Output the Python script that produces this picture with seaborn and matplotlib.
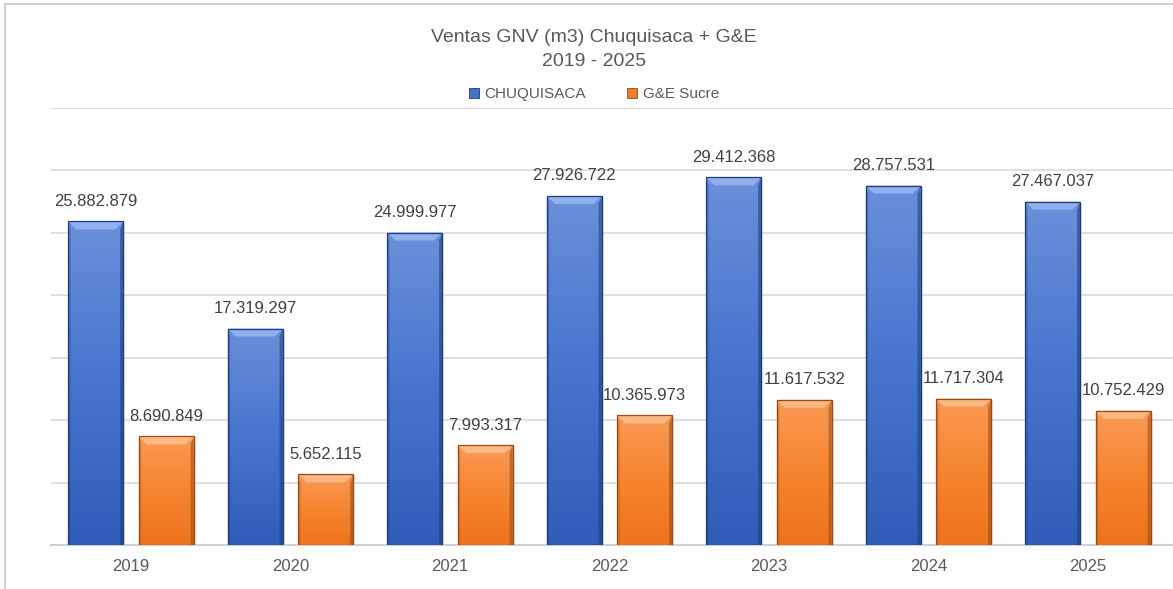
import numpy as np
import pandas as pd
import matplotlib.pyplot as plt
import seaborn as sns
from matplotlib.colors import LinearSegmentedColormap
from matplotlib.patches import Polygon, Rectangle, Patch
from matplotlib.lines import Line2D

# data
years = ['2019', '2020', '2021', '2022', '2023', '2024', '2025']
series = ['CHUQUISACA', 'G&E Sucre']
chuquisaca = [25882879, 17319297, 24999977, 27926722, 29412368, 28757531, 27467037]
ge_sucre = [8690849, 5652115, 7993317, 10365973, 11617532, 11717304, 10752429]

df = pd.DataFrame({
    'Año': years * 2,
    'Serie': [series[0]] * len(years) + [series[1]] * len(years),
    'Ventas': chuquisaca + ge_sucre,
})

sns.set_theme(style='white')
plt.rcParams['font.family'] = ['Liberation Sans', 'DejaVu Sans']

W, H = 1173, 589
fig = plt.figure(figsize=(W / 100, H / 100), dpi=100)
left, right, top, bottom = 51.25, 1173, 107.5, 545
ax = fig.add_axes([left / W, 1 - bottom / H, (right - left) / W, (bottom - top) / H])

base = ['#4472C4', '#ED7D31']
sns.barplot(data=df, x='Año', y='Ventas', hue='Serie', hue_order=series,
            palette=base, width=0.884, gap=0.22, ax=ax, legend=False, zorder=3)

cat_px = 159.5
ax.set_yticks(np.arange(5e6, 35e6 + 1, 5e6))
ax.set_yticklabels([])
ax.tick_params(axis='y', length=0)
ax.tick_params(axis='x', length=0, pad=10, labelsize=12, labelcolor='#595959')
ax.grid(axis='y', color='#D9D9D9', lw=1.2, zorder=0)
ax.set_xlabel('')
ax.set_ylabel('')
for s in ['left', 'right', 'top']:
    ax.spines[s].set_visible(False)
ax.spines['bottom'].set_color('#D0D0D0')
ax.spines['bottom'].set_linewidth(1.5)

# bevel / gradient styling
cmaps = [LinearSegmentedColormap.from_list('b', ['#6A90DA', '#4674CF', '#2F5DB9']),
         LinearSegmentedColormap.from_list('o', ['#FA9A56', '#F6842F', '#EE731E'])]
caps = ['#8FB0EC', '#FDB985']
edges = ['#1E3C78', '#9A4A12']
grad = np.linspace(0, 1, 256).reshape(-1, 1)
px_x = 1 / cat_px
px_y = 35e6 / (bottom - top)
dx, dy = 8 * px_x, 8 * px_y

for cont, cmap, cap, ec in zip(ax.containers, cmaps, caps, edges):
    for bar in cont:
        x, w, h = bar.get_x(), bar.get_width(), bar.get_height()
        z = bar.get_zorder()
        # soft shadow
        ax.add_patch(Rectangle((x + 2 * px_x, -1 * px_y), w, h, fc='#000000', alpha=0.12,
                               lw=0, zorder=z - 0.5))
        im = ax.imshow(grad, extent=[x, x + w, 0, h], cmap=cmap, aspect='auto',
                       zorder=z + 0.1, interpolation='bicubic')
        im.set_clip_path(bar)
        ax.add_patch(Polygon([(x, h), (x + w, h), (x + w - dx, h - dy), (x + dx, h - dy)],
                             closed=True, fc=cap, ec='none', zorder=z + 0.2))
        ax.add_patch(Polygon([(x + w, h), (x + w - 0.4 * dx, h - dy), (x + w - 0.4 * dx, 0), (x + w, 0)],
                             closed=True, fc=ec, alpha=0.55, ec='none', zorder=z + 0.2))
        ax.add_patch(Polygon([(x, h), (x + 0.3 * dx, h - dy), (x + 0.3 * dx, 0), (x, 0)],
                             closed=True, fc=ec, alpha=0.3, ec='none', zorder=z + 0.2))
        ax.add_patch(Rectangle((x, 0), w, h, fill=False, ec=ec, lw=0.9, zorder=z + 0.3))
        label = f'{int(round(h)):,}'.replace(',', '.')
        ax.annotate(label, (x + w / 2, h), xytext=(0, 9), textcoords='offset points',
                    ha='center', va='bottom', fontsize=12, color='#404040', zorder=6)

ax.set_xlim(-0.5, -0.5 + (right - left) / cat_px)
ax.set_ylim(0, 35e6)

# titles
fig.text(594 / W, 1 - 37 / H, 'Ventas GNV (m3) Chuquisaca + G&E', ha='center', va='center',
         fontsize=14, color='#595959')
fig.text(594 / W, 1 - 62 / H, '2019 - 2025', ha='center', va='center',
         fontsize=14, color='#595959')

handles = [Patch(fc=base[0], ec=edges[0], lw=0.6), Patch(fc=base[1], ec=edges[1], lw=0.6)]
fig.legend(handles, series, loc='center', bbox_to_anchor=(594 / W, 1 - 94 / H), ncol=2,
           frameon=False, fontsize=11, handlelength=0.65, handleheight=0.65,
           handletextpad=0.35, columnspacing=2.7, labelcolor='#595959')

# chart frame
fig.add_artist(Line2D([5 / W, 5 / W], [0, 1 - 4 / H], color='#D0D0D0', lw=1.5))
fig.add_artist(Line2D([5 / W, 1], [1 - 4 / H, 1 - 4 / H], color='#D0D0D0', lw=1.5))

fig.savefig('out.png', dpi=100)
